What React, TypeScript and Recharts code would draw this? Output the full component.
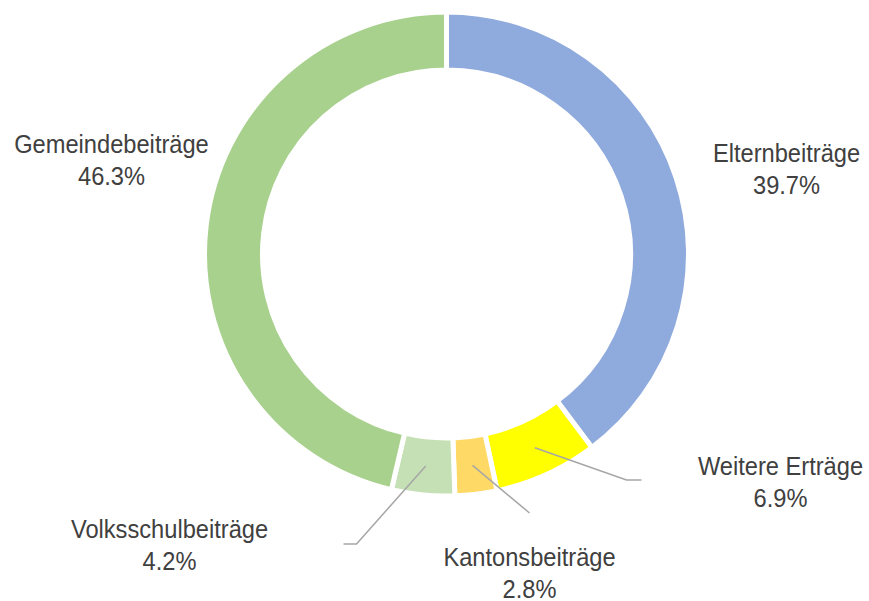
import React from "react";
import { Cell, Pie, PieChart } from "recharts";

const categories = [
  "Elternbeiträge",
  "Weitere Erträge",
  "Kantonsbeiträge",
  "Volksschulbeiträge",
  "Gemeindebeiträge",
];
const shares = [39.7, 6.9, 2.8, 4.2, 46.3];
const colors = ["#8FAADC", "#FFFF00", "#FFD966", "#C5E0B4", "#A9D18E"];

// label placement relative to the pie centre; leader = extra polyline points
const labelLayout = [
  { dx: 340, dy: -92, leader: [] as number[][] },
  { dx: 334, dy: 221, leader: [[180, 226], [195, 226]] },
  { dx: 83, dy: 312, leader: [[83, 259]] },
  { dx: -277, dy: 284, leader: [[-90, 290], [-103, 290]] },
  { dx: -335, dy: -101, leader: [] as number[][] },
];

const data = categories.map((name, i) => ({ name, value: shares[i] }));

const RAD = Math.PI / 180;

function renderLabel(props: any) {
  const { cx, cy, midAngle, innerRadius, outerRadius, index, value, name } =
    props;
  const layout = labelLayout[index];
  const r = (innerRadius + outerRadius) / 2;
  const sx = cx + r * Math.cos(-midAngle * RAD);
  const sy = cy + r * Math.sin(-midAngle * RAD);
  const pts = [[sx, sy], ...layout.leader.map(([x, y]) => [cx + x, cy + y])];
  return (
    <g key={`label-${index}`}>
      {layout.leader.length > 0 && (
        <polyline
          points={pts.map((p) => p.join(",")).join(" ")}
          fill="none"
          stroke="#A6A6A6"
          strokeWidth={1.5}
        />
      )}
      {/* narrow-ish text like the original (Arial Narrow look) */}
      <g transform={`translate(${cx + layout.dx},${cy + layout.dy}) scale(0.91,1)`}>
        <text
          x={0}
          y={0}
          textAnchor="middle"
          fill="#404040"
          fontSize={26}
          fontFamily="'Liberation Sans', Arial, sans-serif"
        >
          <tspan x={0}>{name}</tspan>
          <tspan x={0} dy={32}>
            {`${Number(value).toFixed(1)}%`}
          </tspan>
        </text>
      </g>
    </g>
  );
}

export default function App() {
  return (
    <div style={{ position: "absolute", left: 0, top: 0, background: "#fff" }}>
      <PieChart
        width={869}
        height={601}
        margin={{ top: 0, right: 0, bottom: 0, left: 0 }}
      >
        <Pie
          data={data}
          dataKey="value"
          nameKey="name"
          cx={446.5}
          cy={254}
          innerRadius={184}
          outerRadius={242}
          startAngle={90}
          endAngle={-270}
          stroke="#FFFFFF"
          strokeWidth={5}
          label={renderLabel}
          labelLine={false}
          isAnimationActive={false}
        >
          {data.map((entry, index) => (
            <Cell key={`cell-${index}`} fill={colors[index]} />
          ))}
        </Pie>
      </PieChart>
    </div>
  );
}
